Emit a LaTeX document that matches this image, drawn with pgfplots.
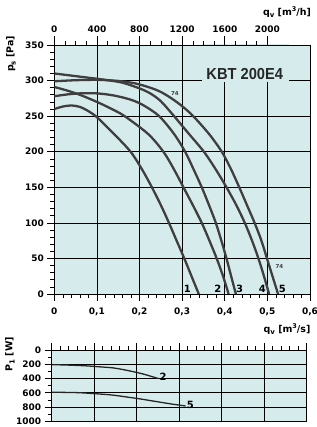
\documentclass[border=0pt]{standalone}
\usepackage{pgfplots}
\pgfplotsset{compat=1.18}
\usepackage{fontspec}
\setmainfont{DejaVu Sans}
\newfontfamily\lib{Liberation Sans}
\definecolor{bgc}{RGB}{214,236,236}
\definecolor{cur}{RGB}{64,62,62}
\newcommand\tl{\fontsize{9}{9}\selectfont\bfseries}
\newcommand\cl{\fontsize{10}{10}\selectfont\bfseries}
\newcommand\mysub[1]{{\fontsize{7}{7}\selectfont\raisebox{-2.2pt}{#1}}}
\newcommand\mysup[1]{{\fontsize{6.5}{7}\selectfont\raisebox{3.5pt}{#1}}}
\begin{document}
\begin{tikzpicture}[x=1bp,y=1bp]
\useasboundingbox (0,0) rectangle (317,427);
% ---------------- main plot ----------------
\begin{axis}[at={(54.3bp,133bp)}, anchor=south west, scale only axis,
  width=255.7bp, height=249bp,
  xmin=0, xmax=0.6, ymin=0, ymax=350,
  axis background/.style={fill=bgc},
  xtick={0,0.1,0.2,0.3,0.4,0.5,0.6},
  xticklabels={0,{0,1},{0,2},{0,3},{0,4},{0,5},{0,6}},
  ytick={0,50,100,150,200,250,300,350},
  minor x tick num=4, minor y tick num=4,
  xtick pos=lower, ytick pos=left, tick align=outside,
  major tick length=7bp, minor tick length=4bp,
  grid=major, major grid style={black, line width=0.6pt},
  tick style={black, line width=0.6pt},
  axis line style={black, line width=0.6pt},
  ticklabel style={font=\tl},
  xticklabel style={yshift=-3bp},
  /pgf/number format/assume math mode=true,
  /pgf/number format/1000 sep={},
]
\fill[bgc] (axis cs:0.3455,297.5) rectangle (axis cs:0.55,351);
\node[font=\lib\fontsize{16}{16}\selectfont\bfseries, text=black!85] at (axis cs:0.447,309.3) {\scalebox{0.92}[1]{KBT 200E4}};
% curve 1
\addplot[cur, line width=2.3pt, smooth] coordinates {
(0,260) (0.02,263.5) (0.04,265) (0.06,263) (0.08,257) (0.1,248.5) (0.14,225) (0.179,200) (0.206,175) (0.229,150) (0.25,125) (0.269,100) (0.287,75) (0.305,50) (0.322,25) (0.339,0)};
% curve 2
\addplot[cur, line width=2.3pt, smooth] coordinates {
(0,291) (0.03,286) (0.06,280) (0.1,270) (0.135,260) (0.165,250) (0.22,225) (0.256,200) (0.281,175) (0.303,150) (0.325,125) (0.346,100) (0.364,75) (0.381,50) (0.396,25) (0.409,0)};
% curve 3
\addplot[cur, line width=2.3pt, smooth] coordinates {
(0,278) (0.03,280.5) (0.06,282) (0.1,282) (0.14,279) (0.18,273) (0.21,265) (0.246,250) (0.281,225) (0.307,200) (0.327,175) (0.346,150) (0.363,125) (0.379,100) (0.392,75) (0.404,50) (0.415,25) (0.426,0)};
% curve 4
\addplot[cur, line width=2.3pt, smooth] coordinates {
(0,310) (0.04,307) (0.08,304) (0.12,301) (0.16,297) (0.2,289) (0.225,282) (0.25,271) (0.281,250) (0.316,225) (0.351,200) (0.379,175) (0.404,150) (0.427,125) (0.447,100) (0.464,75) (0.479,50) (0.492,25) (0.504,0)};
% curve 5
\addplot[cur, line width=2.3pt, smooth] coordinates {
(0,299) (0.05,300.5) (0.1,301) (0.15,299.5) (0.19,296) (0.225,290) (0.25,284) (0.275,275) (0.3,264) (0.326,250) (0.363,225) (0.393,200) (0.415,175) (0.434,150) (0.452,125) (0.47,100) (0.486,75) (0.499,50) (0.512,25) (0.525,0)};
\node[font=\cl] at (axis cs:0.312,7.3) {1};
\node[font=\cl] at (axis cs:0.384,7.3) {2};
\node[font=\cl] at (axis cs:0.435,7.3) {3};
\node[font=\cl] at (axis cs:0.488,7.3) {4};
\node[font=\cl] at (axis cs:0.535,7.3) {5};
\node[font=\fontsize{5.5}{6}\selectfont\bfseries, text=cur] at (axis cs:0.283,282.5) {74};
\node[font=\fontsize{5.5}{6}\selectfont\bfseries, text=cur] at (axis cs:0.528,38.7) {74};
\end{axis}
% ---------------- top (m3/h) axis ----------------
\begin{axis}[at={(54.3bp,133bp)}, anchor=south west, scale only axis,
  width=255.7bp, height=249bp,
  xmin=0, xmax=0.6, ymin=0, ymax=350,
  axis x line*=top, axis y line=none, ytick=\empty,
  xtick={0,0.1,0.2,0.3,0.4,0.5},
  xticklabels={0,400,800,1200,1600,2000},
  minor x tick num=3, tick align=outside,
  major tick length=9bp, minor tick length=4bp,
  tick style={black, line width=0.6pt},
  axis line style={black, line width=0.6pt},
  ticklabel style={font=\tl},
]
\end{axis}
% ---------------- power plot ----------------
\begin{axis}[at={(51.7bp,5.7bp)}, anchor=south west, scale only axis,
  width=255bp, height=71.3bp,
  xmin=0, xmax=0.6, ymin=0, ymax=1000, y dir=reverse,
  axis background/.style={fill=bgc},
  xtick={0,0.1,0.2,0.3,0.4,0.5,0.6}, xticklabels={},
  ytick={0,200,400,600,800,1000},
  minor x tick num=4, minor y tick num=1,
  xtick pos=upper, ytick pos=left, tick align=outside,
  major tick length=7bp, minor tick length=4bp,
  grid=major, major grid style={black, line width=0.6pt},
  tick style={black, line width=0.6pt},
  axis line style={black, line width=0.6pt},
  ticklabel style={font=\tl},
  /pgf/number format/assume math mode=true,
  /pgf/number format/1000 sep={},
]
\addplot[black!85, line width=1.3pt, smooth] coordinates {
(0,205) (0.04,212) (0.08,222) (0.11,235) (0.143,250) (0.171,278) (0.2,315) (0.218,341) (0.233,368) (0.252,402)};
\addplot[black!85, line width=1.3pt, smooth] coordinates {
(0,592) (0.06,598) (0.1,612) (0.14,630) (0.174,657) (0.209,687) (0.245,722) (0.279,755) (0.315,785)};
\node[font=\cl] at (axis cs:0.262,370) {2};
\node[font=\cl] at (axis cs:0.326,770) {5};
\end{axis}
% ---------------- axis titles ----------------
\node[rotate=90, font=\fontsize{9.5}{9.5}\selectfont\bfseries] at (11,373) {p\mysub{s} [Pa]};
\node[font=\fontsize{9.5}{9.5}\selectfont\bfseries] at (287,415) {q\mysub{v} [m\mysup{3}/h]};
\node[font=\fontsize{9.5}{9.5}\selectfont\bfseries] at (287,98) {q\mysub{v} [m\mysup{3}/s]};
\node[rotate=90, font=\fontsize{9.5}{9.5}\selectfont\bfseries] at (10,73) {P\mysub{1} [W]};
\end{tikzpicture}
\end{document}
